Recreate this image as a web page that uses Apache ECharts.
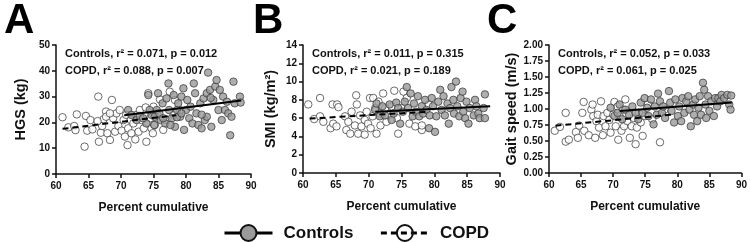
<!DOCTYPE html>
<html>
<head>
<meta charset="utf-8">
<script src="https://cdn.jsdelivr.net/npm/echarts@6/dist/echarts.min.js"></script>
<style>
  html, body { margin: 0; padding: 0; background: #fff; }
  #main { width: 750px; height: 242px; }
</style>
</head>
<body>
<div id="main"></div>
<script>
// panel texts
const panelLetters = ['A', 'B', 'C'];
const yTitles = ['HGS (kg)', 'SMI (kg/m²)', 'Gait speed (m/s)'];
const yRanges = [[0, 50, 10], [0, 14, 2], [0, 2, 0.25]];
const statTexts = [
  ['Controls, r² = 0.071, p = 0.012', 'COPD, r² = 0.088, p = 0.007'],
  ['Controls, r² = 0.011, p = 0.315', 'COPD, r² = 0.021, p = 0.189'],
  ['Controls, r² = 0.052, p = 0.033', 'COPD, r² = 0.061, p = 0.025']
];

// A: handgrip strength
const hgsCopd = [
  [61.0, 22.0], [61.9, 18.1], [62.8, 18.6], [63.2, 23.1], [63.0, 17.0], [64.4, 10.6], [64.6, 22.5],
  [64.8, 16.8], [65.3, 20.9], [65.6, 17.3], [66.5, 30.0], [66.6, 12.5], [66.9, 16.0], [67.1, 18.6],
  [67.3, 21.2], [67.7, 24.2], [67.9, 15.8], [68.3, 13.2], [68.6, 28.7], [68.8, 21.6], [69.1, 16.4],
  [69.3, 23.5], [69.6, 18.6], [69.8, 24.8], [70.1, 16.8], [70.4, 20.9], [70.6, 14.5], [70.8, 22.9],
  [71.0, 11.2], [71.1, 17.7], [71.5, 20.9], [71.6, 15.8], [71.9, 19.6], [72.2, 13.4], [72.4, 22.9],
  [72.7, 16.4], [72.9, 24.8], [73.2, 20.9], [73.5, 17.7], [73.8, 25.8], [73.9, 12.5], [74.2, 31.3],
  [74.5, 21.6], [74.7, 17.7], [75.0, 26.1], [75.2, 19.0], [74.9, 15.8], [75.5, 23.5], [76.0, 28.9],
  [76.5, 17.1], [77.0, 20.9], [77.5, 31.9], [78.1, 22.9], [78.3, 28.7], [79.1, 24.8], [67.7, 22.2],
  [68.3, 23.5], [66.4, 20.5]
];
const hgsControls = [
  [71.1, 24.8], [71.6, 22.9], [72.4, 20.9], [72.9, 22.5], [73.9, 19.6], [74.2, 30.6], [74.7, 22.9],
  [75.1, 19.0], [75.5, 24.8], [75.7, 31.3], [76.1, 20.9], [76.4, 27.4], [76.8, 19.6], [77.0, 29.3],
  [77.3, 35.1], [77.4, 24.8], [77.8, 21.6], [78.1, 30.6], [78.3, 18.3], [78.6, 24.8], [78.8, 27.4],
  [79.1, 22.2], [79.3, 30.0], [79.6, 33.2], [79.7, 17.1], [80.0, 24.8], [80.2, 28.7], [80.5, 21.6],
  [80.7, 26.1], [81.0, 19.6], [81.2, 35.1], [81.4, 31.3], [81.6, 23.5], [81.9, 19.0], [82.2, 27.4],
  [82.4, 17.7], [82.7, 29.3], [82.9, 20.9], [83.2, 31.3], [83.4, 39.3], [83.7, 32.6], [83.9, 18.3],
  [84.2, 28.7], [84.5, 33.9], [84.7, 36.4], [85.0, 24.8], [85.2, 32.6], [85.5, 20.9], [85.7, 30.0],
  [86.0, 24.8], [86.3, 28.0], [86.5, 23.5], [86.8, 15.0], [87.0, 22.2], [87.3, 35.8], [87.5, 27.4],
  [88.3, 30.0], [88.4, 27.7], [73.4, 21.6], [74.4, 24.8], [75.2, 22.2], [75.9, 23.5], [76.5, 21.6],
  [77.6, 19.0], [78.6, 22.0], [79.3, 23.5], [83.2, 22.2], [83.8, 29.5], [82.4, 23.0]
];

// B: skeletal muscle index
const smiCopd = [
  [60.8, 7.5], [61.7, 5.9], [62.6, 8.2], [62.6, 6.2], [63.1, 5.6], [64.2, 4.9], [64.5, 7.5],
  [64.6, 5.4], [65.2, 7.5], [65.4, 7.2], [65.1, 5.1], [66.4, 6.2], [66.6, 4.7], [66.9, 5.6],
  [67.2, 4.3], [67.4, 6.7], [67.9, 5.2], [68.1, 8.5], [68.2, 7.5], [68.4, 4.3], [68.7, 6.3],
  [68.9, 5.1], [69.4, 5.8], [69.4, 4.2], [69.7, 6.7], [69.9, 5.4], [70.2, 8.2], [70.3, 4.9],
  [70.6, 6.2], [70.7, 8.2], [71.0, 7.1], [71.2, 4.3], [71.5, 7.8], [71.7, 6.5], [71.8, 5.2],
  [72.2, 8.7], [72.5, 7.1], [72.7, 5.6], [73.0, 6.3], [73.5, 7.3], [73.9, 9.0], [74.3, 6.0],
  [74.5, 4.3], [75.0, 7.1], [75.3, 8.9], [75.8, 8.2], [76.2, 5.4], [77.1, 5.1], [78.1, 4.7],
  [78.1, 5.2], [79.1, 7.5]
];
const smiControls = [
  [71.0, 6.9], [71.2, 7.6], [71.7, 6.2], [72.1, 7.3], [72.5, 6.3], [73.2, 7.5], [73.5, 5.8],
  [73.8, 6.5], [74.2, 7.7], [74.5, 7.1], [74.8, 5.4], [75.2, 6.7], [75.5, 7.8], [75.8, 9.4],
  [76.0, 7.1], [76.4, 8.7], [76.7, 6.2], [76.9, 7.6], [77.2, 6.7], [77.5, 8.4], [77.7, 6.2],
  [78.1, 7.3], [78.3, 6.5], [78.6, 8.0], [78.8, 6.9], [79.2, 4.9], [79.3, 6.3], [79.6, 8.2],
  [79.8, 7.3], [80.1, 4.5], [80.3, 6.2], [80.6, 7.8], [80.9, 9.1], [81.1, 6.9], [81.4, 8.4],
  [81.6, 6.3], [82.0, 7.6], [82.2, 5.4], [82.4, 7.1], [82.6, 9.4], [82.9, 8.0], [83.0, 6.5],
  [83.3, 10.0], [83.5, 7.3], [83.8, 6.2], [84.0, 8.2], [84.3, 8.9], [84.4, 6.7], [84.7, 6.0],
  [84.9, 7.8], [85.2, 5.4], [85.4, 7.1], [86.0, 6.3], [86.2, 8.0], [86.4, 7.3], [86.7, 6.5],
  [86.9, 6.0], [87.7, 8.6], [87.7, 6.0], [87.5, 7.1]
];

// C: gait speed
const gaitCopd = [
  [60.9, 0.66], [61.7, 0.72], [62.6, 0.94], [62.6, 0.49], [63.1, 0.52], [64.2, 0.64], [64.5, 0.55],
  [64.7, 0.74], [65.2, 0.94], [65.4, 1.11], [65.5, 0.66], [66.2, 0.59], [66.6, 0.99], [66.8, 1.07],
  [66.9, 0.89], [67.2, 0.55], [67.4, 0.81], [67.6, 0.91], [67.8, 0.71], [68.1, 1.12], [68.4, 0.59],
  [68.5, 0.89], [68.8, 0.73], [69.1, 0.94], [69.4, 0.83], [69.6, 0.63], [70.0, 0.91], [70.2, 1.11],
  [70.4, 0.73], [70.7, 1.04], [70.8, 0.52], [71.0, 0.89], [71.3, 0.66], [71.5, 0.99], [71.7, 0.73],
  [71.9, 1.15], [72.2, 0.81], [72.6, 0.55], [72.9, 0.73], [73.2, 0.86], [73.5, 0.45], [73.7, 0.71],
  [74.0, 0.94], [74.3, 0.79], [74.6, 0.58], [75.0, 0.89], [75.4, 1.07], [76.1, 0.84], [77.3, 0.48],
  [78.0, 0.99]
];
const gaitControls = [
  [69.6, 1.02], [70.2, 0.89], [70.7, 0.94], [71.0, 1.07], [71.4, 0.84], [71.9, 0.99], [72.5, 0.91],
  [73.0, 1.04], [73.5, 0.94], [73.9, 0.84], [74.3, 1.10], [74.6, 0.94], [74.9, 1.17], [75.3, 1.02],
  [75.5, 0.89], [75.9, 1.15], [76.3, 0.76], [76.5, 1.04], [76.8, 0.91], [77.0, 1.24], [77.3, 1.12],
  [77.6, 0.94], [77.8, 1.04], [78.1, 0.86], [78.7, 1.28], [78.9, 1.10], [79.1, 0.97], [79.5, 0.79],
  [79.7, 1.15], [80.1, 0.89], [80.3, 1.04], [80.6, 0.81], [80.8, 1.17], [81.1, 0.94], [81.4, 1.12],
  [81.7, 1.20], [81.9, 0.99], [82.1, 0.73], [82.5, 1.07], [82.6, 0.91], [82.8, 1.15], [83.1, 0.81],
  [83.3, 1.02], [83.5, 1.20], [83.7, 0.91], [84.0, 1.41], [84.2, 1.30], [84.4, 1.07], [84.5, 0.86],
  [84.8, 1.20], [85.0, 0.97], [85.3, 1.12], [85.7, 0.89], [85.9, 1.17], [86.2, 1.04], [86.4, 1.17],
  [86.7, 1.12], [86.9, 1.22], [87.3, 1.17], [87.8, 1.22], [88.1, 1.07], [88.3, 0.99], [88.4, 1.21]
];

// regression lines (end points)
const fitControls = [
  [[70.5, 22.8], [88.5, 28.5]],
  [[71.0, 6.7], [88.5, 7.3]],
  [[71.0, 0.97], [88.5, 1.10]]
];
const fitCopd = [
  [[61.0, 17.5], [78.5, 22.8]],
  [[61.0, 5.95], [79.0, 6.7]],
  [[61.0, 0.74], [79.0, 0.91]]
];

const copdPts = [hgsCopd, smiCopd, gaitCopd];
const ctrlPts = [hgsControls, smiControls, gaitControls];

const grids = [
  { left: 56, top: 45, width: 195, height: 129 },
  { left: 303, top: 45, width: 197, height: 128 },
  { left: 549, top: 45, width: 195, height: 128 }
];
const nameGaps = [28, 25, 27];
const letterX = [4, 253, 487];

const FONT = '"Liberation Sans", Arial, sans-serif';
const chart = echarts.init(document.getElementById('main'));

const xAxis = [], yAxis = [], series = [], graphic = [];
grids.forEach((g, i) => {
  xAxis.push({
    gridIndex: i, type: 'value', min: 60, max: 90, interval: 5,
    name: 'Percent cumulative', nameLocation: 'middle', nameGap: 28,
    nameTextStyle: { fontFamily: FONT, fontWeight: 'bold', fontSize: 12, color: '#111' },
    axisLine: { lineStyle: { color: '#111', width: 1.5 } },
    axisTick: { length: 4, lineStyle: { color: '#111', width: 1.5 } },
    axisLabel: { margin: 7, fontFamily: FONT, fontWeight: 'bold', fontSize: 10, color: '#111' },
    splitLine: { show: false }
  });
  const r = yRanges[i];
  yAxis.push({
    gridIndex: i, type: 'value', min: r[0], max: r[1], interval: r[2],
    name: yTitles[i], nameLocation: 'middle', nameGap: nameGaps[i],
    nameTextStyle: { fontFamily: FONT, fontWeight: 'bold', fontSize: 14.5, color: '#111' },
    axisLine: { show: true, lineStyle: { color: '#111', width: 1.5 } },
    axisTick: { show: true, length: 4, lineStyle: { color: '#111', width: 1.5 } },
    axisLabel: {
      margin: 6, fontFamily: FONT, fontWeight: 'bold', fontSize: 10, color: '#111',
      formatter: i === 2 ? (v => v.toFixed(2)) : null
    },
    splitLine: { show: false }
  });
  series.push({
    name: 'copd-pts-' + i, type: 'scatter', xAxisIndex: i, yAxisIndex: i,
    data: copdPts[i], symbolSize: 7.5, z: 2,
    itemStyle: { color: '#fff', borderColor: '#333', borderWidth: 0.9 }
  });
  series.push({
    name: 'ctrl-pts-' + i, type: 'scatter', xAxisIndex: i, yAxisIndex: i,
    data: ctrlPts[i], symbolSize: 7.5, z: 3,
    itemStyle: { color: '#9a9a9a', borderColor: '#333', borderWidth: 0.9 }
  });
  series.push({
    name: 'Controls', type: 'line', xAxisIndex: i, yAxisIndex: i,
    data: fitControls[i], showSymbol: false, symbol: 'circle', z: 5, silent: true,
    lineStyle: { color: '#000', width: 2 },
    itemStyle: { color: '#9a9a9a', borderColor: '#111', borderWidth: 1.5 }
  });
  series.push({
    name: 'COPD', type: 'line', xAxisIndex: i, yAxisIndex: i,
    data: fitCopd[i], showSymbol: false, symbol: 'circle', z: 5, silent: true,
    lineStyle: { color: '#000', width: 2, type: [6, 4] },
    itemStyle: { color: 'rgba(255,255,255,0)', borderColor: '#111', borderWidth: 1.5 }
  });
  graphic.push({
    type: 'text', left: letterX[i], top: 0,
    style: { text: panelLetters[i], fontFamily: FONT, fontWeight: 'bold', fontSize: 42, fill: '#000' }
  });
  graphic.push({
    type: 'text', left: g.left + 9, top: 45,
    style: {
      text: statTexts[i].join('\n'), fontFamily: FONT, fontWeight: 'bold', fontSize: 11,
      lineHeight: 17, fill: '#111'
    }
  });
});

chart.setOption({
  backgroundColor: '#fff',
  animation: false,
  grid: grids,
  xAxis: xAxis,
  yAxis: yAxis,
  series: series,
  graphic: graphic,
  legend: {
    data: ['Controls', 'COPD'],
    left: 218, top: 219,
    itemWidth: 48, itemHeight: 20, itemGap: 26,
    lineStyle: { width: 3 },
    textStyle: { fontFamily: FONT, fontWeight: 'bold', fontSize: 17, color: '#111', padding: [0, 0, 0, 6] },
    selectedMode: false
  }
});
</script>
</body>
</html>
